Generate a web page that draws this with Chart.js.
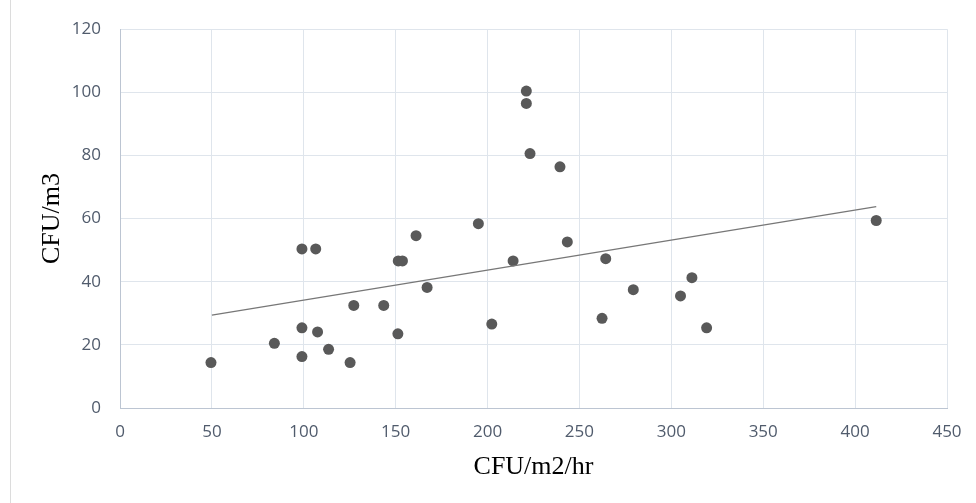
<!DOCTYPE html>
<html>
<head>
<meta charset="utf-8">
<title>CFU/m3 vs CFU/m2/hr</title>
<script src="https://cdn.jsdelivr.net/npm/chart.js@4/dist/chart.umd.min.js"></script>
<style>
  html, body { margin: 0; padding: 0; background: #ffffff; }
  #wrap { position: relative; width: 976px; height: 503px; }
</style>
</head>
<body>
<div id="wrap"><canvas id="scatterChart" width="976" height="503"></canvas></div>
<script>
// Settle plates (x) against air samples (y)
const settleCfu = [49.5, 84, 99, 106.5, 99, 107.5, 99, 113.5, 125.2, 127.2,
  143.5, 151.2, 151.4, 153.7, 161.1, 167.1, 195, 202.3, 213.9, 221.1,
  221.1, 223.1, 239.4, 243.4, 264.3, 262.3, 279.3, 305, 311.2, 319.2, 411.5];
const airCfu = [14.4, 20.5, 50.4, 50.4, 25.4, 24.1, 16.3, 18.6, 14.4, 32.5,
  32.5, 23.5, 46.6, 46.6, 54.6, 38.2, 58.4, 26.6, 46.6, 100.4,
  96.5, 80.6, 76.4, 52.6, 47.3, 28.4, 37.5, 35.5, 41.3, 25.4, 59.4];

// Linear trendline ends as drawn in the picture
const trendX = [50, 411.5];
const trendY = [29.4, 63.8];

// Axis ranges / ticks
const xTicks = [0, 50, 100, 150, 200, 250, 300, 350, 400, 450];
const yTicks = [0, 20, 40, 60, 80, 100, 120];

const tickColor = "#505b6c";
const tickFont = { family: "'Open Sans', sans-serif", size: 17 };
const titleFont = { family: "'Liberation Serif', 'Times New Roman', serif", size: 26 };

//Thin frame line on the left edge of the chart object
const frameLine = {
  id: "frameLine",
  beforeDraw(chart) {
    const ctx = chart.ctx;
    ctx.save();
    ctx.fillStyle = "#ffffff";
    ctx.fillRect(0, 0, chart.width, chart.height);
    ctx.strokeStyle = "#dcdcdc";
    ctx.lineWidth = 1;
    ctx.beginPath();
    ctx.moveTo(10.5, 0);
    ctx.lineTo(10.5, chart.height);
    ctx.stroke();
    ctx.restore();
  },
};

new Chart(document.getElementById("scatterChart"), {
  type: "scatter",
  data: {
    datasets: [
      {
        label: "Trend",
        type: "line",
        data: trendX.map((x, i) => ({ x, y: trendY[i] })),
        borderColor: "#777777",
        borderWidth: 1.3,
        pointRadius: 0,
        fill: false,
      },
      {
        label: "CFU",
        data: settleCfu.map((x, i) => ({ x, y: airCfu[i] })),
        backgroundColor: "#595959",
        borderColor: "#595959",
        borderWidth: 0,
        pointRadius: 5.5,
      },
    ],
  },
  options: {
    responsive: false,
    animation: false,
    layout: { padding: { left: 37, right: 29, top: 27, bottom: 20 } },
    plugins: {
      legend: { display: false },
      tooltip: { enabled: false },
    },
    scales: {
      x: {
        type: "linear",
        min: 0,
        max: 450,
        afterBuildTicks: (axis) => { axis.ticks = xTicks.map((v) => ({ value: v })); },
        afterFit: (axis) => { axis.height = 75; },
        grid: { color: "#dfe5ec", drawTicks: false },
        border: { color: "#bcc5d2" },
        ticks: { color: tickColor, font: tickFont, padding: 14 },
        title: {
          display: true,
          text: "CFU/m2/hr",
          color: "#000000",
          font: titleFont,
          padding: 0,
        },
      },
      y: {
        type: "linear",
        min: 0,
        max: 120,
        afterBuildTicks: (axis) => { axis.ticks = yTicks.map((v) => ({ value: v })); },
        afterFit: (axis) => { axis.width = 83; },
        grid: { color: "#dfe5ec", drawTicks: false },
        border: { color: "#bcc5d2" },
        ticks: { color: tickColor, font: tickFont, padding: 19 },
        title: {
          display: true,
          text: "CFU/m3",
          color: "#000000",
          font: titleFont,
          padding: 0,
        },
      },
    },
  },
  plugins: [frameLine],
});
</script>
</body>
</html>
